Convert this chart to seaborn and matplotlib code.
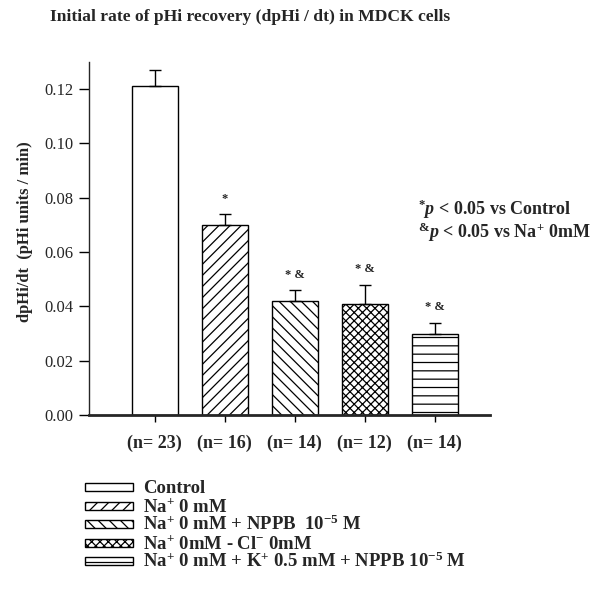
import numpy as np
import pandas as pd
import matplotlib
matplotlib.use("Agg")
import matplotlib.pyplot as plt
from matplotlib.patches import Rectangle
import seaborn as sns

# data
conditions = [
    "Control",
    r"Na$^{+}$ 0 mM",
    r"Na$^{+}$ 0 mM + NPPB  10$^{-5}$ M",
    r"Na$^{+}$ 0mM - Cl$^{-}$ 0mM",
    r"Na$^{+}$ 0 mM + K$^{+}$ 0.5 mM + NPPB 10$^{-5}$ M",
]
n_labels = ["(n= 23)", "(n= 16)", "(n= 14)", "(n= 12)", "(n= 14)"]
rates = [0.121, 0.070, 0.042, 0.041, 0.030]
sem = [0.006, 0.004, 0.004, 0.007, 0.004]
marks = ["", "*", "* &", "* &", "* &"]
hatches = ["", "///", "\\\\\\", "xxxx", "--"]

sns.set_style("ticks")
plt.rcParams["font.family"] = ["Liberation Serif", "DejaVu Serif"]
plt.rcParams["mathtext.fontset"] = "custom"
plt.rcParams["mathtext.rm"] = "Liberation Serif:bold"
plt.rcParams["mathtext.it"] = "Liberation Serif:bold:italic"
plt.rcParams["mathtext.bf"] = "Liberation Serif:bold"
plt.rcParams["hatch.linewidth"] = 0.9
plt.rcParams["hatch.color"] = "black"

df = pd.DataFrame({"condition": conditions, "rate": rates, "sem": sem})

fig = plt.figure(figsize=(6.03, 5.95), dpi=100)
ax = fig.add_axes([0.1476, 0.3025, 0.665, 0.5933])

sns.barplot(data=df, x="condition", y="rate", order=conditions, color="white",
            edgecolor="black", linewidth=1.0, width=0.66, errorbar=None, ax=ax)
for bar, h in zip(ax.patches, hatches):
    bar.set_facecolor("white")
    bar.set_hatch(h)

x = np.arange(len(conditions))
ax.errorbar(x, rates, yerr=[np.zeros(len(sem)), sem], fmt="none",
            ecolor="black", elinewidth=1.0, capsize=4.5, capthick=1.0)

for xi, r, s, m in zip(x, rates, sem, marks):
    if m:
        ax.text(xi, r + s + 0.0035, m, ha="center", va="bottom",
                fontsize=9, fontweight="bold")

ax.set_xlim(-0.94, 4.79)
ax.set_ylim(0, 0.13)
yt = np.arange(0, 0.121, 0.02)
ax.set_yticks(yt)
ax.set_yticklabels([f"{v:.2f}" for v in yt], fontsize=12)
ax.set_xticks(x)
ax.set_xticklabels(n_labels, fontsize=13, fontweight="bold")
ax.set_xlabel("")
ax.set_ylabel("dpHi/dt  (pHi units / min)", fontsize=12, fontweight="bold")
ax.yaxis.set_label_coords(-0.14, 0.52)
sns.despine(ax=ax)
ax.spines["bottom"].set_linewidth(2.0)
ax.spines["left"].set_linewidth(1.0)
ax.tick_params(axis="y", direction="out", length=7, width=1, color="black", pad=4)
ax.tick_params(axis="x", direction="out", length=5, width=1, color="black", pad=9)

fig.text(250 / 603, 1 - 17 / 595, "Initial rate of pHi recovery (dpHi / dt) in MDCK cells",
         ha="center", va="center", fontsize=12.6, fontweight="bold")

fig.text(418 / 603, 1 - 209 / 595, r"$^{*}$$\it{p}$ < 0.05 vs Control",
         ha="left", va="center", fontsize=13, fontweight="bold")
fig.text(418 / 603, 1 - 232 / 595, r"$^{&}$$\it{p}$ < 0.05 vs Na$^{+}$ 0mM",
         ha="left", va="center", fontsize=13, fontweight="bold")

# legend drawn as key boxes with labels, one row per condition
W, H = 603, 595
for i, (lab, h) in enumerate(zip(conditions, hatches)):
    yc = 487 + 18.6 * i
    fig.add_artist(Rectangle((85 / W, 1 - (yc + 4) / H), 48 / W, 8 / H,
                             transform=fig.transFigure, facecolor="white",
                             edgecolor="black", linewidth=1.0, hatch=h))
    fig.text(143 / W, 1 - (yc + 6) / H, lab, ha="left", va="baseline",
             fontsize=13.5, fontweight="bold")

fig.savefig("out.png", dpi=100)
